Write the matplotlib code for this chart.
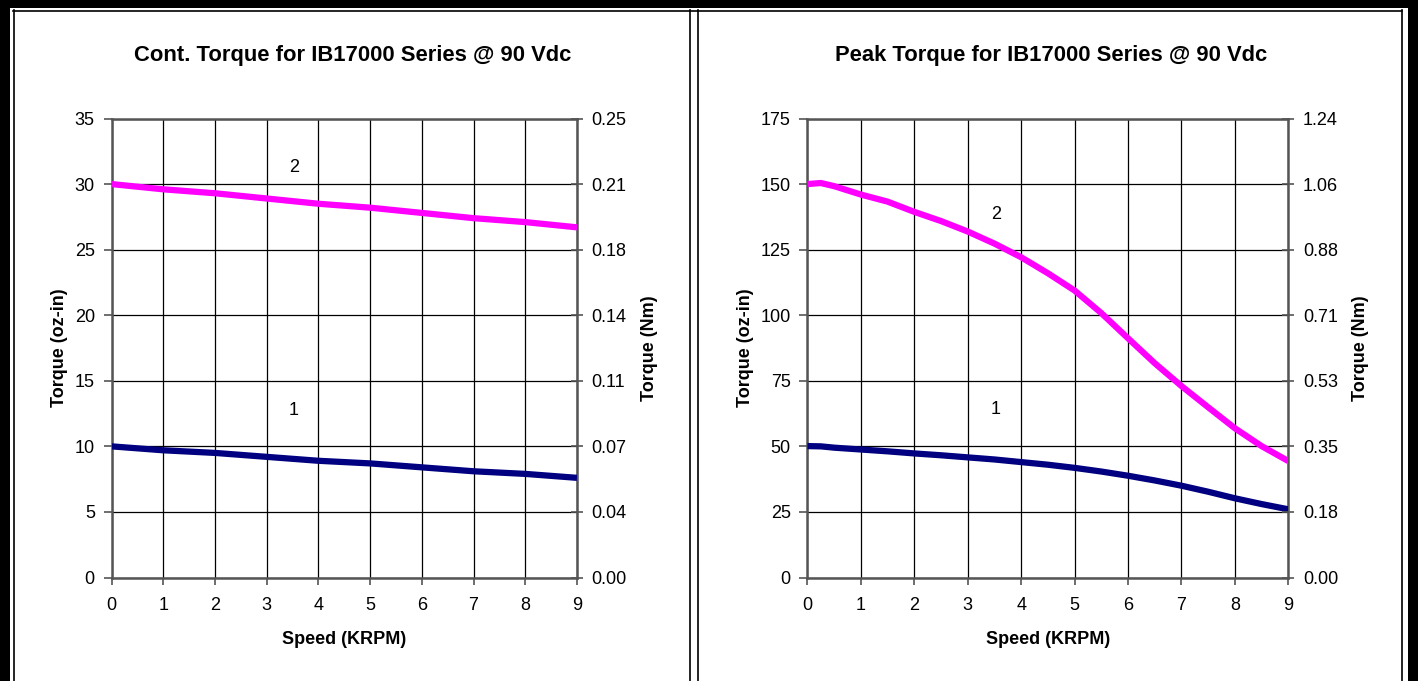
import matplotlib
matplotlib.use("Agg")
import matplotlib.pyplot as plt
from matplotlib.patches import Rectangle
from matplotlib.lines import Line2D

plt.rcParams['font.family'] = ['Liberation Sans', 'DejaVu Sans']

# ---------------- data ----------------
speed = [0, 1, 2, 3, 4, 5, 6, 7, 8, 9]

cont_curve1 = [10.0, 9.7, 9.5, 9.2, 8.9, 8.7, 8.4, 8.1, 7.9, 7.6]
cont_curve2 = [30.0, 29.6, 29.3, 28.9, 28.5, 28.2, 27.8, 27.4, 27.1, 26.7]

peak_speed = [0, 0.25, 0.5, 1, 1.5, 2, 2.5, 3, 3.5, 4, 4.5, 5, 5.5, 6, 6.5, 7, 7.5, 8, 8.5, 9]
peak_curve2 = [150.0, 150.4, 149.2, 146.0, 143.3, 139.4, 135.9, 131.9, 127.3, 122.1,
               116.0, 109.4, 100.8, 91.2, 81.7, 73.0, 64.9, 56.9, 50.1, 44.4]
peak_curve1 = [50.1, 50.0, 49.5, 48.8, 48.1, 47.3, 46.6, 45.8, 45.0, 44.0,
               43.0, 41.8, 40.4, 38.8, 37.0, 35.0, 32.7, 30.2, 28.0, 26.0]

cont_oz_ticks = [0, 5, 10, 15, 20, 25, 30, 35]
cont_nm_labels = ['0.00', '0.04', '0.07', '0.11', '0.14', '0.18', '0.21', '0.25']
peak_oz_ticks = [0, 25, 50, 75, 100, 125, 150, 175]
peak_nm_labels = ['0.00', '0.18', '0.35', '0.53', '0.71', '0.88', '1.06', '1.24']
x_ticks = [0, 1, 2, 3, 4, 5, 6, 7, 8, 9]

titles = ['Cont. Torque for IB17000 Series @ 90 Vdc',
          'Peak Torque for IB17000 Series @ 90 Vdc']
curve_labels = ['1', '2']

# ---------------- figure ----------------
W, H = 1418, 681
fig = plt.figure(figsize=(W / 100, H / 100), dpi=100)
fig.patch.set_facecolor('white')


def fx(px):
    return px / W


def fy(py):
    return 1 - py / H


def rect_px(x0, y0, x1, y1, **kw):
    fig.patches.append(Rectangle((fx(x0), fy(y1)), fx(x1) - fx(x0), fy(y0) - fy(y1),
                                 transform=fig.transFigure, figure=fig, **kw))


def vline_px(x, y0, y1, lw=1.2):
    fig.lines.append(Line2D([fx(x), fx(x)], [fy(y0), fy(y1)], transform=fig.transFigure,
                            color='black', lw=lw, figure=fig))


def hline_px(y, x0, x1, lw=1.2):
    fig.lines.append(Line2D([fx(x0), fx(x1)], [fy(y), fy(y)], transform=fig.transFigure,
                            color='black', lw=lw, figure=fig))


# outer thick border (no bottom)
rect_px(0, 0, W, 8, color='black', lw=0)
rect_px(0, 0, 10, H, color='black', lw=0)
rect_px(1408, 0, W, H, color='black', lw=0)
# thin panel frames
hline_px(10.5, 13, 1402)
vline_px(13.5, 10, H)
vline_px(690, 10, H)
vline_px(697.5, 10, H)
vline_px(1401.5, 10, H)

spine_col = '#555555'


def make_panel(left_px, right_px, xs1, y1, xs2, y2, oz_ticks, nm_labels,
               title, title_cx, lab1, lab2):
    top_px, bot_px = 118.5, 577.5
    ax = fig.add_axes([fx(left_px), fy(bot_px), fx(right_px) - fx(left_px),
                       fy(top_px) - fy(bot_px)])
    ax.plot(xs1, y1, color='#000080', lw=4.5, solid_capstyle='butt', zorder=3)
    ax.plot(xs2, y2, color='#FF00FF', lw=4.5, solid_capstyle='butt', zorder=3)
    ax.set_xlim(x_ticks[0], x_ticks[-1])
    ax.set_ylim(oz_ticks[0], oz_ticks[-1])
    ax.set_xticks(x_ticks)
    ax.set_yticks(oz_ticks)
    ax.grid(True, color='black', lw=0.9)
    ax.set_axisbelow(True)
    for s in ax.spines.values():
        s.set_color(spine_col)
        s.set_linewidth(1.8)
    ax.tick_params(axis='y', direction='out', length=6, width=1.2, color=spine_col,
                   labelsize=13, pad=6)
    ax.tick_params(axis='x', direction='out', length=5, width=1.2, color=spine_col,
                   labelsize=13, pad=9)
    ax.set_xlabel('Speed (KRPM)', fontsize=13, fontweight='bold', labelpad=12)
    ax.set_ylabel('Torque (oz-in)', fontsize=13, fontweight='bold', labelpad=5)

    ax2 = ax.twinx()
    ax2.set_ylim(oz_ticks[0], oz_ticks[-1])
    ax2.set_yticks(oz_ticks)
    ax2.set_yticklabels(nm_labels)
    ax2.tick_params(axis='y', direction='inout', length=9, width=1.2, color=spine_col,
                    labelsize=13, pad=6)
    for s in ax2.spines.values():
        s.set_visible(False)
    ax2.set_ylabel('Torque (Nm)', fontsize=13, fontweight='bold', labelpad=10)

    ax.text(3.53, lab1, curve_labels[0], fontsize=13, ha='center', va='center')
    ax.text(3.53, lab2, curve_labels[1], fontsize=13, ha='center', va='center')

    fig.text(fx(title_cx), fy(55), title, fontsize=15.8, fontweight='bold',
             ha='center', va='center')
    return ax


make_panel(111.5, 577, speed, cont_curve1, speed, cont_curve2,
           cont_oz_ticks, cont_nm_labels, titles[0], 353, 12.7, 31.3)
make_panel(807.5, 1288.3, peak_speed, peak_curve1, peak_speed, peak_curve2,
           peak_oz_ticks, peak_nm_labels, titles[1], 1051, 64, 138.5)

fig.savefig('out.png', dpi=100, facecolor='white')
